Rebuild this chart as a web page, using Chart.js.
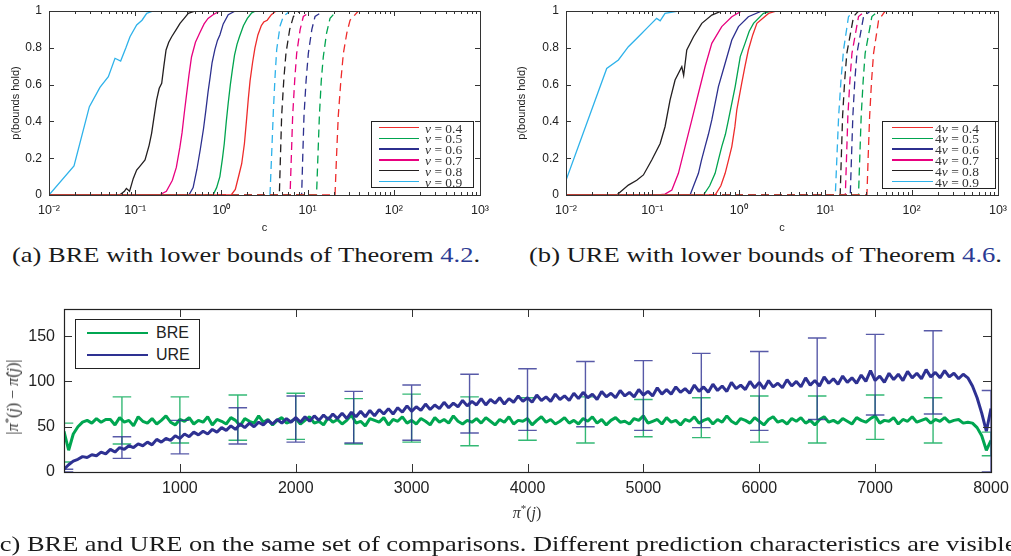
<!DOCTYPE html>
<html>
<head>
<meta charset="utf-8">
<script src="https://cdn.jsdelivr.net/npm/chart.js@4.4.1/dist/chart.umd.min.js"></script>
<style>
  html, body { margin:0; padding:0; background:#fff; }
  body { width:1011px; height:556px; position:relative; overflow:hidden; }
  canvas { position:absolute; }
  .cap { position:absolute; font-family:"Liberation Serif", serif; font-size:21.5px; line-height:21px; color:#1a1a1a; white-space:nowrap; transform-origin:0 50%; }
  .ref { color:#2b3a93; }
  .leg { position:absolute; border:1px solid #222; background:#fff; box-sizing:border-box; }
  .lt { position:absolute; font-family:"Liberation Serif", serif; font-size:13.5px; color:#333; white-space:nowrap; line-height:13px; }
  .lc { position:absolute; font-family:"Liberation Sans", Arial, sans-serif; font-size:16px; color:#222; white-space:nowrap; line-height:16px; }
  .ax { position:absolute; font-family:"Liberation Serif", serif; color:#333; white-space:nowrap; }
  .sup { font-size:11px; vertical-align:6px; font-style:normal; }
</style>
</head>
<body>
<canvas id="chartA" width="500" height="240" style="left:0;top:0"></canvas>
<canvas id="chartB" width="506" height="240" style="left:505px;top:0"></canvas>
<canvas id="chartC" width="1011" height="261" style="left:0;top:295px"></canvas>
<div id="legA" class="leg" style="left:371px;top:121px;width:103px;height:67px"></div>
<div id="legB" class="leg" style="left:882px;top:121px;width:114px;height:68px"></div>
<div id="legC" class="leg" style="left:75px;top:319px;width:125px;height:50px"></div>
<div class="ax" style="left:12px;top:397px;font-size:16px;transform:translate(-50%,-50%) rotate(-90deg)">|<i>π</i><span class="sup">*</span>(<i>j</i>) − <i>π̂</i>(<i>j</i>)|</div>
<div class="ax" style="left:527px;top:512px;font-size:16px;transform:translate(-50%,-50%)"><i>π</i><span class="sup">*</span>(<i>j</i>)</div>
<div class="cap" id="capA" style="left:12px;top:245px">(a) BRE with lower bounds of Theorem <span class="ref">4.2</span>.</div>
<div class="cap" id="capB" style="left:529px;top:245px">(b) URE with lower bounds of Theorem <span class="ref">4.6</span>.</div>
<div class="cap" id="capC" style="left:-9px;top:534px">(c) BRE and URE on the same set of comparisons. Different prediction characteristics are visible.</div>
<script>
// ---------------- data: panels (a) and (b) ----------------
const nuValues = ['0.4','0.5','0.6','0.7','0.8','0.9'];
const lineColors = ['#ee2b2b','#00a44f','#2c2f8e','#e8007f','#231f20','#2eb2ea'];
const cMajor = [0.01, 0.1, 1, 10, 100, 1000];
const cMajorLabels = ['10\u207B\u00B2','10\u207B\u00B9','10\u2070','10\u00B9','10\u00B2','10\u00B3'];
const cMinorMult = [2,3,4,5,6,7,8,9];
const pTicks = [0, 0.2, 0.4, 0.6, 0.8, 1];
const pTickLabels = ['0','0.2','0.4','0.6','0.8','1'];

// (a) BRE, solid curves
const a04 = [[0.01,0],[1.30,0],[1.45,0.03],[1.60,0.11],[1.72,0.17],[1.85,0.28],[1.95,0.40],[2.05,0.52],[2.15,0.62],[2.30,0.72],[2.45,0.80],[2.65,0.87],[2.90,0.92],[3.10,0.94],[3.40,0.95],[3.80,0.98],[4.3,1],[1000,1]];
const a05 = [[0.01,0],[0.80,0],[0.88,0.04],[0.96,0.10],[1.03,0.20],[1.08,0.28],[1.14,0.40],[1.20,0.50],[1.27,0.60],[1.34,0.68],[1.42,0.76],[1.52,0.82],[1.62,0.86],[1.80,0.92],[2.00,0.96],[2.25,0.99],[2.5,1],[1000,1]];
const a06 = [[0.01,0],[0.42,0],[0.47,0.04],[0.52,0.14],[0.57,0.25],[0.62,0.36],[0.66,0.46],[0.70,0.56],[0.74,0.64],[0.78,0.72],[0.84,0.79],[0.90,0.84],[0.96,0.87],[1.05,0.93],[1.20,0.98],[1.45,1],[1000,1]];
const a07 = [[0.01,0],[0.19,0],[0.23,0.02],[0.27,0.08],[0.30,0.15],[0.33,0.26],[0.35,0.34],[0.37,0.44],[0.395,0.55],[0.42,0.65],[0.45,0.75],[0.50,0.83],[0.56,0.88],[0.63,0.93],[0.70,0.96],[0.80,0.98],[0.96,1],[1000,1]];
const a08 = [[0.01,0],[0.066,0],[0.075,0.02],[0.079,0.036],[0.086,0.02],[0.095,0.09],[0.104,0.136],[0.115,0.16],[0.13,0.19],[0.145,0.27],[0.155,0.335],[0.165,0.42],[0.177,0.516],[0.19,0.58],[0.203,0.607],[0.215,0.70],[0.228,0.788],[0.245,0.83],[0.265,0.86],[0.30,0.90],[0.331,0.933],[0.37,0.96],[0.413,0.987],[0.5,1],[1000,1]];
const a09 = [[0.01,0],[0.0195,0.158],[0.0294,0.48],[0.039,0.585],[0.0488,0.643],[0.0583,0.743],[0.0678,0.728],[0.078,0.80],[0.087,0.86],[0.104,0.924],[0.12,0.95],[0.136,0.987],[0.162,1],[1000,1]];
// (a) BRE, dashed curves
const ad04 = [[0.01,0],[20.8,0],[21.7,0.22],[22.7,0.43],[24.3,0.62],[26.0,0.77],[28.5,0.88],[31.1,0.95],[38.8,1],[1000,1]];
const ad05 = [[0.01,0],[12.7,0],[13.2,0.22],[13.7,0.43],[14.4,0.62],[15.2,0.75],[16.6,0.88],[18.2,0.96],[21.7,1],[1000,1]];
const ad06 = [[0.01,0],[8.53,0],[8.8,0.22],[9.08,0.43],[9.6,0.62],[10.2,0.77],[11.2,0.9],[12.2,0.97],[15.2,1],[1000,1]];
const ad07 = [[0.01,0],[6.26,0],[6.5,0.23],[6.71,0.43],[7.1,0.63],[7.47,0.77],[8.2,0.9],[8.92,0.97],[11.1,1],[1000,1]];
const ad08 = [[0.01,0],[4.70,0],[4.85,0.22],[5.0,0.43],[5.3,0.63],[5.61,0.77],[6.2,0.9],[6.84,0.97],[8.16,1],[1000,1]];
const ad09 = [[0.01,0],[3.66,0],[3.85,0.25],[4.01,0.46],[4.2,0.65],[4.38,0.79],[4.8,0.92],[5.23,0.97],[6.26,1],[1000,1]];

// (b) URE, solid curves
const b04 = [[0.01,0],[0.532,0],[0.62,0.05],[0.695,0.118],[0.76,0.19],[0.83,0.263],[0.90,0.37],[0.948,0.462],[1.08,0.607],[1.18,0.70],[1.29,0.788],[1.45,0.87],[1.62,0.933],[2.21,0.987],[2.75,1],[1000,1]];
const b05 = [[0.01,0],[0.39,0],[0.46,0.05],[0.532,0.118],[0.58,0.19],[0.635,0.263],[0.70,0.33],[0.759,0.408],[0.908,0.589],[1.04,0.752],[1.18,0.824],[1.32,0.89],[1.48,0.933],[1.93,0.987],[2.41,1],[1000,1]];
const b06 = [[0.01,0],[0.273,0],[0.30,0.05],[0.341,0.118],[0.37,0.19],[0.407,0.263],[0.445,0.33],[0.487,0.408],[0.581,0.589],[0.695,0.716],[0.83,0.842],[0.991,0.915],[1.29,0.969],[1.85,1],[1000,1]];
const b07 = [[0.01,0],[0.117,0],[0.14,0.005],[0.168,0.027],[0.2,0.118],[0.239,0.263],[0.286,0.408],[0.341,0.553],[0.407,0.697],[0.487,0.824],[0.635,0.915],[0.83,0.969],[1.08,1],[1000,1]];
const b08 = [[0.01,0],[0.0387,0],[0.0527,0.054],[0.0659,0.08],[0.0787,0.109],[0.0983,0.19],[0.123,0.28],[0.14,0.371],[0.16,0.516],[0.183,0.625],[0.219,0.697],[0.23,0.65],[0.25,0.788],[0.299,0.86],[0.373,0.933],[0.487,0.978],[0.635,1],[1000,1]];
const b09 = [[0.01,0.08],[0.0296,0.688],[0.0404,0.734],[0.0527,0.806],[0.0689,0.86],[0.0899,0.915],[0.112,0.96],[0.123,0.947],[0.14,0.987],[0.2,1],[1000,1]];
// (b) URE, dashed curves
const bd04 = [[0.01,0],[30.4,0],[31.5,0.22],[32.7,0.43],[34.4,0.62],[36.3,0.77],[41.5,0.95],[49.5,1],[1000,1]];
const bd05 = [[0.01,0],[24.3,0],[25.2,0.22],[26.1,0.43],[27.5,0.62],[29.0,0.77],[34.7,0.97],[41.5,1],[1000,1]];
const bd06 = [[0.01,0],[19.5,0],[20.2,0.22],[20.9,0.43],[22.0,0.62],[23.3,0.77],[27.8,0.97],[33.2,1],[1000,1]];
const bd07 = [[0.01,0],[17.1,0],[17.7,0.22],[18.3,0.43],[19.3,0.62],[20.4,0.77],[24.3,0.97],[29.0,1],[1000,1]];
const bd08 = [[0.01,0],[14.9,0],[15.4,0.22],[15.9,0.43],[16.8,0.62],[17.8,0.77],[21.3,0.97],[24.3,1],[1000,1]];
const bd09 = [[0.01,0],[13.1,0],[13.7,0.22],[14.3,0.426],[15.2,0.62],[16.3,0.788],[18.6,0.969],[21.3,1],[1000,1]];

// ---------------- data: panel (c) ----------------
const seriesNames = ['BRE','URE'];
const seriesColors = ['#00a651','#2e3192'];
const piTicks = [1000,2000,3000,4000,5000,6000,7000,8000];
const piTickLabels = ['1000','2000','3000','4000','5000','6000','7000','8000'];
const errTicks = [0,50,100,150];
const errTickLabels = ['0','50','100','150'];
const piX = [0,40,80,120,160,200,240,280,320,360,
 400,440,480,520,560,600,640,680,720,760,800,840,880,920,960,1000,1040,1080,1120,1160,
 1200,1240,1280,1320,1360,1400,1440,1480,1520,1560,1600,1640,1680,1720,1760,1800,1840,1880,1920,1960,
 2000,2040,2080,2120,2160,2200,2240,2280,2320,2360,2400,2440,2480,2520,2560,2600,2640,2680,2720,2760,
 2800,2840,2880,2920,2960,3000,3040,3080,3120,3160,3200,3240,3280,3320,3360,3400,3440,3480,3520,3560,
 3600,3640,3680,3720,3760,3800,3840,3880,3920,3960,4000,4040,4080,4120,4160,4200,4240,4280,4320,4360,
 4400,4440,4480,4520,4560,4600,4640,4680,4720,4760,4800,4840,4880,4920,4960,5000,5040,5080,5120,5160,
 5200,5240,5280,5320,5360,5400,5440,5480,5520,5560,5600,5640,5680,5720,5760,5800,5840,5880,5920,5960,
 6000,6040,6080,6120,6160,6200,6240,6280,6320,6360,6400,6440,6480,6520,6560,6600,6640,6680,6720,6760,
 6800,6840,6880,6920,6960,7000,7040,7080,7120,7160,7200,7240,7280,7320,7360,7400,7440,7480,7520,7560,
 7600,7640,7680,7720,7760,7800,7840,7880,7920,7960,8000];
const breErr = [45,24,42,50,55,57,54,59,55,58,
 58,52,60,55,57,51,61,56,54,59,53,57,62,55,52,58,56,60,53,57,
 55,61,52,58,56,53,60,57,51,59,56,54,62,55,58,52,57,60,54,56,
 59,53,57,61,54,56,52,60,55,58,53,57,63,54,56,51,59,57,55,60,
 52,58,56,61,54,57,53,59,56,52,60,55,58,54,62,56,53,57,55,59,
 54,60,56,52,58,55,61,53,57,56,59,52,57,61,55,58,53,56,60,54,
 57,53,59,56,61,54,58,52,57,60,55,56,53,59,57,62,54,56,58,53,
 60,55,57,52,58,56,61,54,57,59,53,58,55,62,56,53,59,57,54,60,
 56,52,58,61,55,57,53,59,56,60,54,57,52,58,61,55,57,54,59,56,
 53,60,57,55,59,62,54,57,56,60,53,58,56,61,55,57,59,54,58,56,
 60,55,57,58,54,55,54,49,40,24,35];
const ureErr = [3,8,12,14,17,16,19,18,22,20,
 25,22,27,25,29,27,31,29,33,30,36,33,37,35,40,37,42,39,44,41,
 45,42,47,44,49,46,51,47,53,49,54,50,55,52,57,53,58,54,59,55,
 60,55,61,56,62,57,63,58,64,59,65,59,66,61,67,61,68,62,69,64,
 70,64,71,66,73,67,72,68,75,69,74,70,77,71,76,72,79,73,78,74,
 81,74,80,76,82,75,81,77,84,78,82,77,85,79,83,78,86,80,84,79,
 87,81,88,82,86,80,89,83,87,82,90,84,88,83,91,85,89,84,93,86,
 91,86,94,88,92,87,96,89,94,88,97,90,95,89,99,92,96,91,100,93,
 99,92,101,94,98,93,102,95,100,94,104,96,101,95,105,98,103,97,106,99,
 104,98,107,100,112,101,106,99,109,102,108,101,111,104,109,103,113,105,110,104,
 112,105,109,103,108,104,95,82,65,45,70];
const errX  = [0,500,1000,1500,2000,2500,3000,3500,4000,4500,5000,5500,6000,6500,7000,7500,8000];
const breLo = [11,31,32,35,36,31,33,29,35,32,39,38,33,32,36,32,18];
const breHi = [54,83,83,85,87,81,86,83,82,83,80,82,84,84,85,82,44];
const ureLo = [0,15,20,31,33,32,35,43,46,50,46,49,46,58,63,64,0];
const ureHi = [3,39,57,71,84,89,96,108,114,122,123,131,133,148,152,156,90];

// ---------------- helpers ----------------
const boxTicks = {
  id: 'boxTicks',
  afterDatasetsDraw(chart, args, o) {
    const {ctx, chartArea: a} = chart;
    const sx = chart.scales.x, sy = chart.scales.y;
    ctx.save();
    ctx.strokeStyle = o.color;
    ctx.lineWidth = 1;
    ctx.beginPath();
    for (const t of sx.ticks) {
      const v = t.value;
      if (v <= sx.min || v >= sx.max) continue;
      const p = Math.round(sx.getPixelForValue(v)) + 0.5;
      let len = o.major;
      if (o.logX) { const l = Math.log10(v); if (Math.abs(l - Math.round(l)) > 1e-6) len = o.minor; }
      ctx.moveTo(p, a.bottom); ctx.lineTo(p, a.bottom - len);
      ctx.moveTo(p, a.top); ctx.lineTo(p, a.top + len);
    }
    for (const t of sy.ticks) {
      const v = t.value;
      if (v <= sy.min || v >= sy.max) continue;
      const p = Math.round(sy.getPixelForValue(v)) + 0.5;
      ctx.moveTo(a.left, p); ctx.lineTo(a.left + o.major, p);
      ctx.moveTo(a.right, p); ctx.lineTo(a.right - o.major, p);
    }
    ctx.stroke();
    ctx.lineWidth = o.box;
    ctx.strokeStyle = o.boxColor;
    ctx.strokeRect(Math.round(a.left) + 0.5, Math.round(a.top) + 0.5, Math.round(a.right - a.left), Math.round(a.bottom - a.top));
    ctx.restore();
  }
};

const cTicks = [];
cMajor.forEach((d, i) => { cTicks.push(d); if (i < cMajor.length - 1) cMinorMult.forEach(m => cTicks.push(d * m)); });

function toPts(arr) { return arr.map(p => ({x: p[0], y: p[1]})); }

function makeLogChart(id, solid, dashed, yAxisWidth, rightPad, yTitlePad) {
  const datasets = [];
  solid.forEach((s, i) => datasets.push({data: toPts(s), borderColor: lineColors[i], borderWidth: 1.3, pointRadius: 0, fill: false}));
  dashed.forEach((s, i) => datasets.push({data: toPts(s), borderColor: lineColors[i], borderWidth: 1.3, borderDash: [8, 5], pointRadius: 0, fill: false}));
  return new Chart(document.getElementById(id), {
    type: 'line',
    data: {datasets},
    plugins: [boxTicks],
    options: {
      responsive: false, animation: false,
      layout: {padding: {left: 0, top: 11, right: rightPad, bottom: 0}},
      plugins: {legend: {display: false}, tooltip: {enabled: false},
        boxTicks: {color: '#333', boxColor: '#333', box: 1, major: 5, minor: 3, logX: true}},
      scales: {
        x: {type: 'logarithmic', min: 0.01, max: 1000,
          afterBuildTicks: s => { s.ticks = cTicks.map(v => ({value: v})); },
          afterFit: s => { s.height = 45; s.paddingLeft = 0; s.paddingRight = 0; },
          grid: {display: false, drawTicks: false}, border: {display: false},
          ticks: {autoSkip: false, maxRotation: 0, minRotation: 0, padding: 8, color: '#222',
            font: {family: 'Liberation Sans', size: 12.5},
            callback: v => { const k = cMajor.findIndex(d => Math.abs(d - v) / d < 1e-6); return k >= 0 ? cMajorLabels[k] : ''; }},
          title: {display: true, text: 'c', color: '#222', font: {family: 'Liberation Sans', size: 11}, padding: {top: 0, bottom: 5}}
        },
        y: {min: 0, max: 1,
          afterBuildTicks: s => { s.ticks = pTicks.map(v => ({value: v})); },
          afterFit: s => { s.width = yAxisWidth; s.paddingTop = 0; s.paddingBottom = 0; },
          grid: {display: false, drawTicks: false}, border: {display: false},
          ticks: {padding: 7, color: '#222', font: {family: 'Liberation Sans', size: 12},
            callback: (v, i) => pTickLabels[i]},
          title: {display: true, text: 'p(bounds hold)', color: '#222', font: {family: 'Liberation Sans', size: 11}, padding: {top: yTitlePad, bottom: 0}}
        }
      }
    }
  });
}

makeLogChart('chartA', [a04, a05, a06, a07, a08, a09], [ad04, ad05, ad06, ad07, ad08, ad09], 49, 20, 9);
makeLogChart('chartB', [b04, b05, b06, b07, b08, b09], [bd04, bd05, bd06, bd07, bd08, bd09], 61, 13, 10);

function errorBarPoints(xs, lo, hi, half) {
  const pts = [];
  xs.forEach((x, i) => {
    pts.push({x, y: lo[i]}, {x, y: hi[i]}, {x, y: null},
             {x: x - half, y: hi[i]}, {x: x + half, y: hi[i]}, {x, y: null},
             {x: x - half, y: lo[i]}, {x: x + half, y: lo[i]}, {x, y: null});
  });
  return pts;
}

new Chart(document.getElementById('chartC'), {
  type: 'line',
  data: {datasets: [
    {data: errorBarPoints(errX, ureLo, ureHi, 80), borderColor: 'rgba(46,49,146,0.8)', borderWidth: 1.4, pointRadius: 0, spanGaps: false, order: 0},
    {data: piX.map((x, i) => ({x, y: ureErr[i]})), borderColor: seriesColors[1], borderWidth: 3, pointRadius: 0, borderJoinStyle: 'bevel', order: 1},
    {data: errorBarPoints(errX, breLo, breHi, 80), borderColor: 'rgba(0,166,81,0.8)', borderWidth: 1.4, pointRadius: 0, spanGaps: false, order: 2},
    {data: piX.map((x, i) => ({x, y: breErr[i]})), borderColor: seriesColors[0], borderWidth: 3, pointRadius: 0, borderJoinStyle: 'bevel', order: 3}
  ]},
  plugins: [boxTicks],
  options: {
    responsive: false, animation: false,
    layout: {padding: {left: 0, top: 14, right: 20, bottom: 0}},
    plugins: {legend: {display: false}, tooltip: {enabled: false},
      boxTicks: {color: '#333', boxColor: '#222', box: 1.2, major: 8, minor: 8, logX: false}},
    scales: {
      x: {type: 'linear', min: 0, max: 8000,
        afterBuildTicks: s => { s.ticks = piTicks.map(v => ({value: v})); },
        afterFit: s => { s.height = 84; s.paddingLeft = 0; s.paddingRight = 0; },
        grid: {display: false, drawTicks: false}, border: {display: false},
        ticks: {autoSkip: false, maxRotation: 0, padding: 7, color: '#222', font: {family: 'Liberation Sans', size: 16},
          callback: (v, i) => piTickLabels[i]}
      },
      y: {min: 0, max: 180,
        afterBuildTicks: s => { s.ticks = errTicks.map(v => ({value: v})); },
        afterFit: s => { s.width = 64; s.paddingTop = 0; s.paddingBottom = 0; },
        grid: {display: false, drawTicks: false}, border: {display: false},
        ticks: {padding: 9, color: '#222', font: {family: 'Liberation Sans', size: 16},
          callback: (v, i) => errTickLabels[i]}
      }
    }
  }
});

// ---------------- legends ----------------
function buildLegend(el, labels, colors, o) {
  labels.forEach((lab, i) => {
    const y = o.y0 + i * o.dy;
    const sw = document.createElement('div');
    sw.style.cssText = `position:absolute;left:${o.sx}px;width:${o.sw}px;top:${y - o.lw / 2}px;height:${o.lw}px;background:${colors[i]}`;
    el.appendChild(sw);
    const t = document.createElement('div');
    t.className = o.cls;
    t.style.left = o.tx + 'px';
    t.style.top = y + 'px';
    t.style.transform = 'translateY(-50%)';
    t.innerHTML = lab;
    el.appendChild(t);
  });
}
buildLegend(document.getElementById('legA'), nuValues.map(v => `<i>ν</i> = ${v}`), lineColors,
  {y0: 5.5, dy: 10.8, sx: 7, sw: 40, lw: 1.5, tx: 53, cls: 'lt'});
buildLegend(document.getElementById('legB'), nuValues.map(v => `4<i>ν</i> = ${v}`), lineColors,
  {y0: 5.5, dy: 10.8, sx: 9, sw: 41, lw: 1.5, tx: 52, cls: 'lt'});
buildLegend(document.getElementById('legC'), seriesNames, seriesColors,
  {y0: 13, dy: 22, sx: 11, sw: 61, lw: 1.5, tx: 80, cls: 'lc'});

// ---------------- caption fitting (horizontal stretch, like the wider TeX face) ----------------
function fitText(id, target) {
  const el = document.getElementById(id);
  el.style.transform = 'none';
  const w = el.getBoundingClientRect().width;
  el.style.transform = `scaleX(${target / w})`;
}
fitText('capA', 468);
fitText('capB', 473);
fitText('capC', 1032);
</script>
</body>
</html>
